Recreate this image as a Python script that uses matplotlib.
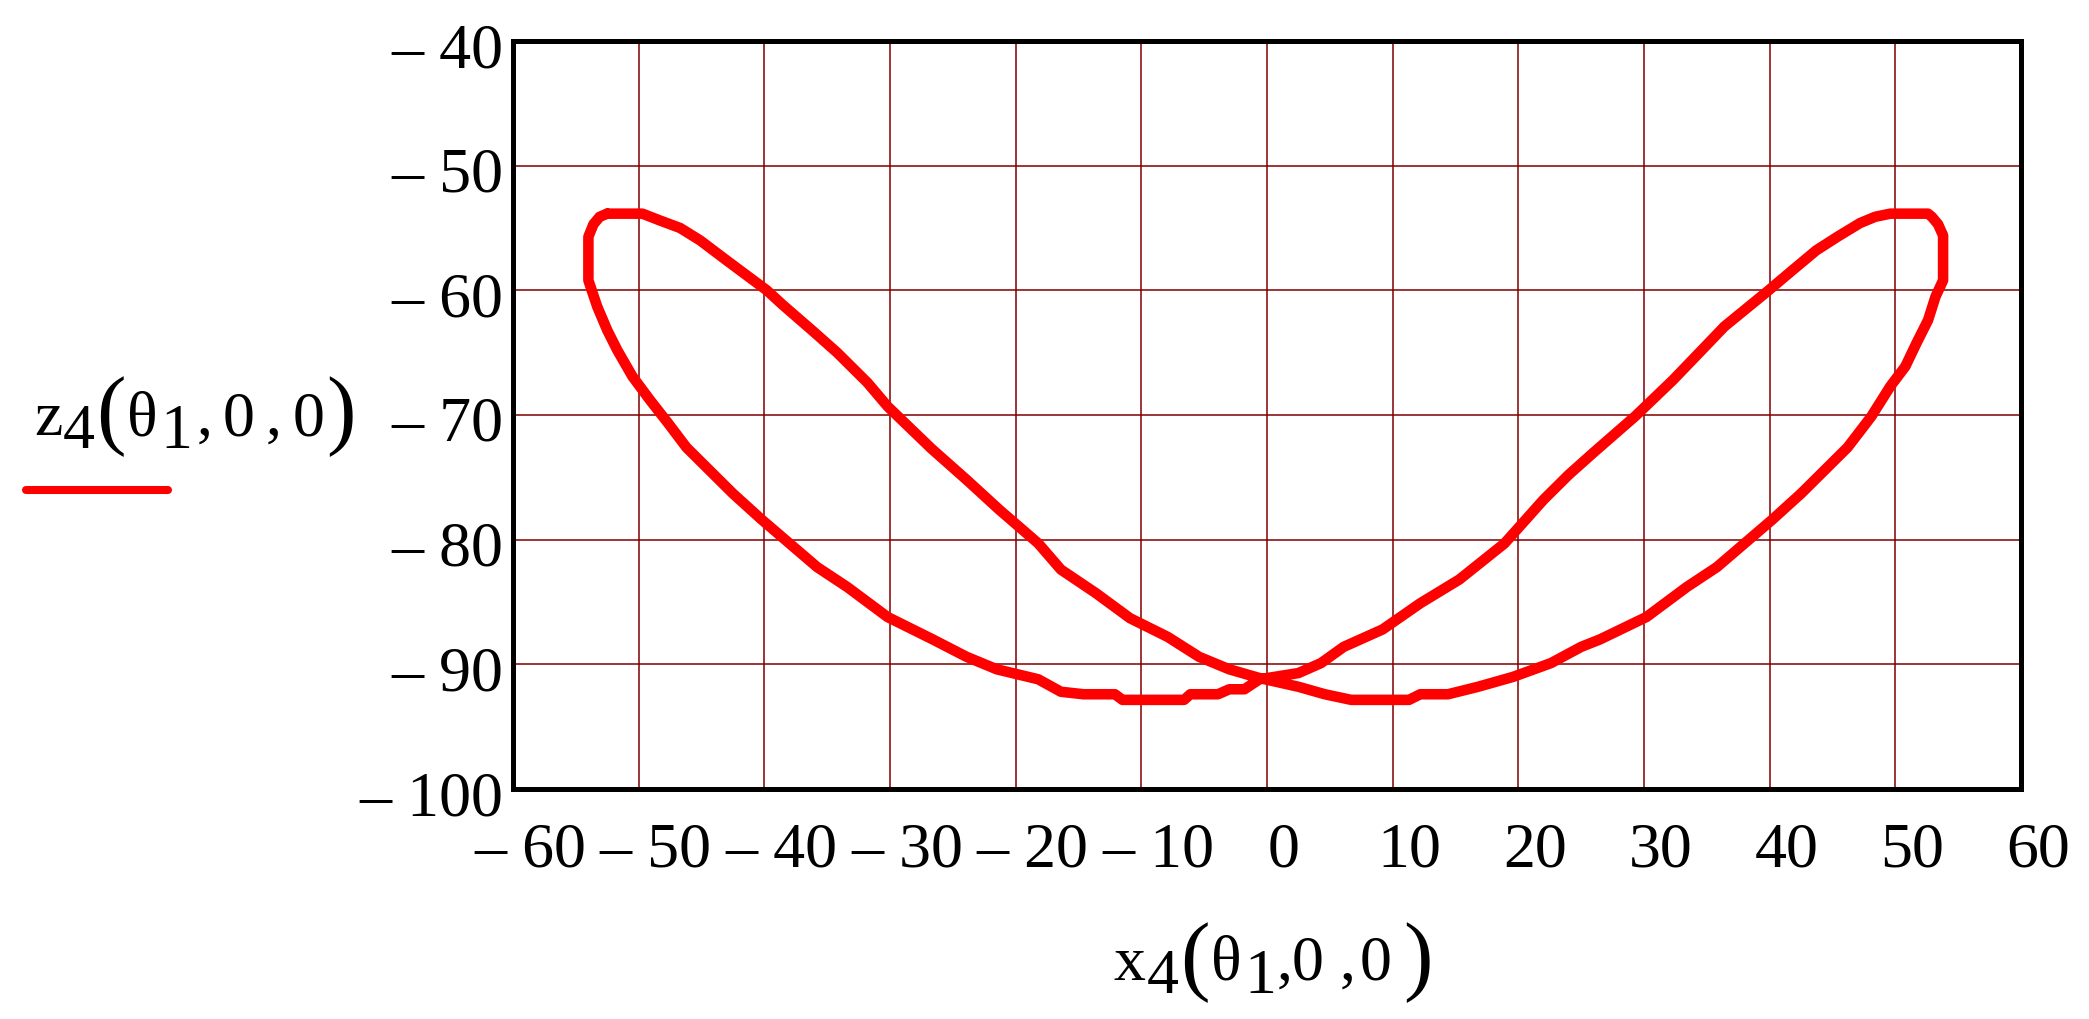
import matplotlib
matplotlib.use("Agg")
import matplotlib.pyplot as plt
import matplotlib.transforms as mtransforms
from matplotlib.lines import Line2D

# ---- data ----
x4 = [-52.5, -49.7, -48.3, -46.7, -45.1, -43.0, -41.4, -39.8, -38.5, -36.1, -34.2, -31.8,
      -30.2, -26.7, -23.9, -21.3, -18.2, -16.4, -13.6, -10.9, -7.9, -5.4, -3.0, -0.6,
      2.5, 4.6, 6.7, 11.3, 12.2, 14.4, 16.8, 19.6, 22.6, 25.0, 26.5,
      30.2, 33.4, 35.8, 38.0, 40.2, 42.5, 44.6, 46.2, 48.1, 49.6, 50.8, 51.7, 52.6, 53.2,
      53.8, 53.8, 53.4, 52.9, 52.6, 49.6, 48.4, 47.2, 45.4, 43.7, 41.8, 39.8, 36.4, 34.4, 32.3, 29.3,
      26.0, 24.0, 22.0, 18.9, 15.3, 12.2, 9.2, 6.1, 4.3, 2.5,
      -0.6, -1.8, -3.0, -3.9, -6.1, -6.6, -11.5, -12.1, -14.6, -16.4, -18.2, -21.5, -23.9,
      -26.6, -30.2, -33.4, -35.8, -38.0, -40.2, -42.5, -44.6, -46.2, -47.7, -49.1, -50.5,
      -51.7, -52.5, -53.3, -54.0, -54.0, -53.6, -53.1, -52.5]
z4 = [-53.85, -53.85, -54.4, -55.0, -56.0, -57.6, -58.8, -60.0, -61.2, -63.3, -65.0, -67.4,
      -69.3, -72.7, -75.2, -77.6, -80.3, -82.4, -84.3, -86.3, -87.8, -89.4, -90.4, -91.1,
      -91.8, -92.4, -92.85, -92.85, -92.4, -92.4, -91.8, -91.0, -89.9, -88.6, -88.0,
      -86.2, -83.8, -82.2, -80.3, -78.4, -76.3, -74.2, -72.6, -70.1, -67.7, -66.1, -64.2, -62.4, -60.5,
      -59.2, -55.6, -54.7, -54.1, -53.85, -53.85, -54.1, -54.6, -55.7, -56.8, -58.4, -60.1, -62.9, -65.0, -67.2, -70.1,
      -73.0, -74.8, -76.8, -80.3, -83.2, -85.1, -87.2, -88.6, -89.9, -90.7,
      -91.2, -92.0, -92.0, -92.4, -92.4, -92.85, -92.85, -92.4, -92.4, -92.2, -91.2, -90.4, -89.4,
      -88.0, -86.2, -83.8, -82.2, -80.3, -78.4, -76.3, -74.2, -72.6, -70.6, -68.8, -66.9,
      -64.8, -63.2, -61.3, -59.2, -55.7, -54.7, -54.1, -53.85]

x_ticks = [-60, -50, -40, -30, -20, -10, 0, 10, 20, 30, 40, 50, 60]
y_ticks = [-100, -90, -80, -70, -60, -50, -40]
x_ticklabels = ["\u2013 60", "\u2013 50", "\u2013 40", "\u2013 30", "\u2013 20", "\u2013 10",
                "0", "10", "20", "30", "40", "50", "60"]
y_ticklabels = ["\u2013 100", "\u2013 90", "\u2013 80", "\u2013 70", "\u2013 60", "\u2013 50", "\u2013 40"]

W, H = 2089, 1019
DPI = 100
FONT = "Liberation Serif"
FS = 46
PS = 64  # parenthesis size

fig = plt.figure(figsize=(W / DPI, H / DPI), dpi=DPI)
fig.patch.set_facecolor("white")
ax = fig.add_axes([513 / W, 1 - 789 / H, (2021 - 513) / W, (789 - 41) / H])

ax.plot(x4, z4, color="#ff0000", lw=7.6, solid_joinstyle="round", solid_capstyle="round", zorder=3)

ax.set_xlim(-60, 60)
ax.set_ylim(-100, -40)
ax.set_xticks(x_ticks)
ax.set_yticks(y_ticks)
ax.set_xticklabels(x_ticklabels, fontsize=FS, family=FONT)
ax.set_yticklabels(y_ticklabels, fontsize=FS, family=FONT)
ax.tick_params(axis="both", length=0)
ax.tick_params(axis="x", pad=24)
ax.tick_params(axis="y", pad=7)
ax.grid(True, color="#800000", lw=1.1, zorder=1)
ax.set_axisbelow(True)
for sp in ax.spines.values():
    sp.set_linewidth(3.6)
    sp.set_color("black")
    sp.set_zorder(5)

off = mtransforms.ScaledTranslation(17 / DPI, 0, fig.dpi_scale_trans)
for lab in ax.get_xticklabels():
    lab.set_transform(lab.get_transform() + off)
offy = mtransforms.ScaledTranslation(0, -4 / DPI, fig.dpi_scale_trans)
for lab in ax.get_yticklabels():
    lab.set_transform(lab.get_transform() + offy)


def piece(s, x, y, size=FS):
    fig.text(x / W, 1 - y / H, s, fontsize=size, family=FONT, ha="left", va="baseline")


# x-axis label: x4(θ1, 0, 0)
piece("x", 1114, 980)
piece("4", 1147, 993)
piece("(", 1180, 984, size=PS)
piece("\u03b8", 1211, 980)
piece("1", 1244, 993)
piece(",", 1277, 980)
piece("0", 1292, 980)
piece(",", 1340, 980)
piece("0", 1360, 980)
piece(")", 1403, 984, size=PS)

# y-axis label: z4(θ1, 0, 0)
piece("z", 34, 435)
piece("4", 63, 448)
piece("(", 96, 438, size=PS)
piece("\u03b8", 127, 435)
piece("1", 160, 448)
piece(",", 197, 435)
piece("0", 223, 435)
piece(",", 266, 435)
piece("0", 293, 435)
piece(")", 326, 438, size=PS)

fig.add_artist(Line2D([26 / W, 168 / W], [1 - 490 / H, 1 - 490 / H], color="#ff0000",
                      lw=5.8, solid_capstyle="round"))

fig.savefig("out.png", dpi=DPI, facecolor="white")
